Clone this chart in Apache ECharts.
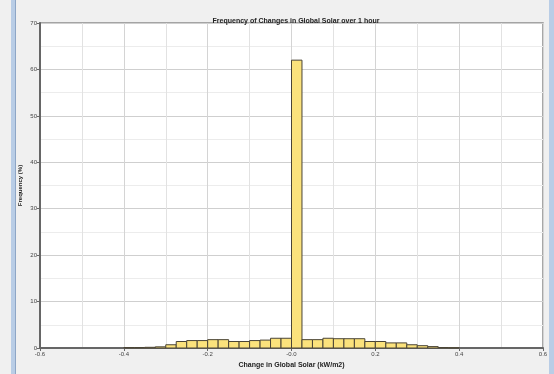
<!DOCTYPE html>
<html>
<head>
<meta charset="utf-8">
<script src="https://cdn.jsdelivr.net/npm/echarts@6/dist/echarts.min.js"></script>
<style>
  html, body { margin: 0; padding: 0; background: #f0f0f0; }
  #chart { width: 554px; height: 374px; }
</style>
</head>
<body>
<div id="chart"></div>
<script>
// histogram bins, 0.025 kW/m2 wide, lower edge of each bin
var binStarts = [-0.4, -0.375, -0.35, -0.325, -0.3, -0.275, -0.25, -0.225, -0.2, -0.175,
                 -0.15, -0.125, -0.1, -0.075, -0.05, -0.025, 0.0, 0.025, 0.05, 0.075,
                 0.1, 0.125, 0.15, 0.175, 0.2, 0.225, 0.25, 0.275, 0.3, 0.325, 0.35, 0.375];
var binWidth = 0.025;
// frequency (%)
var freq = [0.1, 0.1, 0.15, 0.25, 0.7, 1.4, 1.6, 1.6, 1.8, 1.8,
            1.4, 1.4, 1.6, 1.7, 2.1, 2.1, 62, 1.8, 1.8, 2.1,
            2.0, 2.0, 2.0, 1.4, 1.4, 1.1, 1.1, 0.7, 0.5, 0.3, 0.1, 0.05];

var chart = echarts.init(document.getElementById('chart'));

var data = [];
for (var i = 0; i < binStarts.length; i++) {
	data.push([binStarts[i], binStarts[i] + binWidth, freq[i]]);
}

var option = {
	backgroundColor: '#f0f0f0',
	animation: false,
	title: {
		text: 'Frequency of Changes in Global Solar over 1 hour',
		left: 291,
		textAlign: 'center',
		top: 13,
		textStyle: { fontSize: 7, fontWeight: 'bold', color: '#222', fontFamily: 'Liberation Sans' }
	},
	grid: {
		left: 40, right: 11, top: 23, bottom: 23,
		show: true,
		backgroundColor: '#ffffff',
		borderColor: '#8a8a8a',
		borderWidth: 1.5
	},
	xAxis: {
		type: 'value',
		min: -0.6, max: 0.6, interval: 0.2,
		name: 'Change in Global Solar (kW/m2)',
		nameLocation: 'middle',
		nameGap: 14,
		nameTextStyle: { fontSize: 7, fontWeight: 'bold', color: '#222', fontFamily: 'Liberation Sans' },
		axisLine: { show: true, onZero: false, lineStyle: { color: '#666', width: 2 } },
		axisTick: { show: true, length: 3, lineStyle: { color: '#666' } },
		axisLabel: {
			fontSize: 6, color: '#444', margin: 3,
			formatter: function (v) {
				if (Math.abs(v) < 1e-9) return '-0.0';
				return v.toFixed(1);
			}
		},
		splitLine: { show: true, lineStyle: { color: '#d4d4d4', width: 1 } },
		minorTick: { show: false, splitNumber: 2 },
		minorSplitLine: { show: true, lineStyle: { color: '#e2e2e2', width: 1 } }
	},
	yAxis: {
		type: 'value',
		min: 0, max: 70, interval: 10,
		name: 'Frequency (%)',
		nameLocation: 'middle',
		nameGap: 17,
		nameMoveOverlap: false,
		nameTextStyle: { fontSize: 6, fontWeight: 'bold', color: '#222', fontFamily: 'Liberation Sans' },
		axisLine: { show: true, onZero: false, lineStyle: { color: '#666', width: 2 } },
		axisTick: { show: true, length: 3, lineStyle: { color: '#666' } },
		axisLabel: { fontSize: 6, color: '#444', margin: 3 },
		splitLine: { show: true, lineStyle: { color: '#cfcfcf', width: 1 } },
		minorTick: { show: false, splitNumber: 2 },
		minorSplitLine: { show: true, lineStyle: { color: '#ececec', width: 1 } }
	},
	graphic: [
		{ type: 'rect', left: 11, top: 0, shape: { width: 4, height: 374 }, style: { fill: '#b9cde6' }, z: 100 },
		{ type: 'rect', left: 15, top: 0, shape: { width: 1, height: 374 }, style: { fill: '#8ea6c6' }, z: 100 },
		{ type: 'rect', left: 549, top: 0, shape: { width: 5, height: 374 }, style: { fill: '#b9cde6' }, z: 100 }
	],
	series: [{
		type: 'custom',
		data: data,
		encode: { x: [0, 1], y: 2 },
		renderItem: function (params, api) {
			var p0 = api.coord([api.value(0), api.value(2)]);
			var p1 = api.coord([api.value(1), 0]);
			return {
				type: 'rect',
				shape: { x: p0[0], y: p0[1], width: p1[0] - p0[0], height: p1[1] - p0[1] },
				style: { fill: '#fbe27c', stroke: '#4a4436', lineWidth: 1 }
			};
		}
	}]
};

chart.setOption(option);
</script>
</body>
</html>
